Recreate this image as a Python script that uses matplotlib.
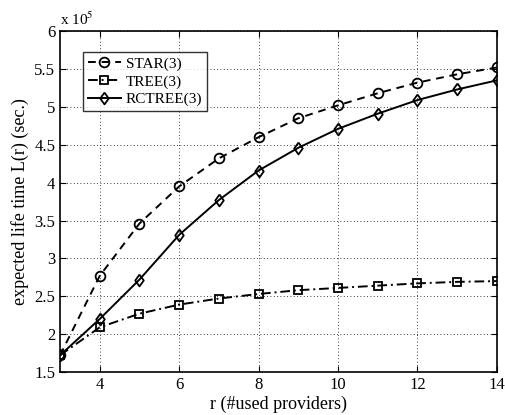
import matplotlib
matplotlib.use("Agg")
import matplotlib.pyplot as plt
import numpy as np

# data (values in units of 1e5 sec.)
r_vals = [3, 4, 5, 6, 7, 8, 9, 10, 11, 12, 13, 14]
star = [1.72, 2.77, 3.46, 3.95, 4.32, 4.60, 4.85, 5.02, 5.18, 5.32, 5.43, 5.52]
tree = [1.72, 2.09, 2.27, 2.39, 2.47, 2.53, 2.58, 2.61, 2.64, 2.67, 2.69, 2.70]
rctree = [1.72, 2.20, 2.72, 3.31, 3.77, 4.16, 4.46, 4.71, 4.91, 5.09, 5.23, 5.35]

plt.rcParams['font.family'] = ['Liberation Serif', 'DejaVu Serif']
plt.rcParams['mathtext.fontset'] = 'stix'

# diamond a bit wider than matplotlib's thin 'd'
diamond = [(0, 1), (0.72, 0), (0, -1), (-0.72, 0), (0, 1)]

fig = plt.figure(figsize=(5.06, 4.15), dpi=100)
ax = fig.add_axes([0.1186, 0.1036, 0.8634, 0.8214])

ax.plot(r_vals, star, color='k', linestyle=(0, (4, 3)), linewidth=1.4,
        marker='o', markersize=7, markerfacecolor='none', markeredgewidth=1.3,
        label='STAR(3)')
ax.plot(r_vals, tree, color='k', linestyle=(0, (5, 2, 1, 2)), linewidth=1.4,
        marker='s', markersize=6, markerfacecolor='none', markeredgewidth=1.3,
        label='TREE(3)')
ax.plot(r_vals, rctree, color='k', linestyle='-', linewidth=1.4,
        marker=diamond, markersize=8.5, markerfacecolor='none', markeredgewidth=1.3,
        label='RCTREE(3)')

ax.set_xlim(3, 14)
ax.set_ylim(1.5, 6)
ax.set_xticks([4, 6, 8, 10, 12, 14])
ax.set_yticks([1.5, 2, 2.5, 3, 3.5, 4, 4.5, 5, 5.5, 6])
ax.set_yticklabels(['1.5', '2', '2.5', '3', '3.5', '4', '4.5', '5', '5.5', '6'])
ax.tick_params(direction='in', labelsize=12, top=True, right=True, length=4)
ax.grid(True, linestyle=(0, (1, 3)), color='k', linewidth=0.6)
for s in ax.spines.values():
    s.set_linewidth(1.2)

ax.set_xlabel('r (#used providers)', fontsize=13, labelpad=2)
ax.set_ylabel('expected life time L(r) (sec.)', fontsize=13, labelpad=4)
ax.text(0.0, 1.01, r'x 10$^5$', transform=ax.transAxes, fontsize=11,
        ha='left', va='bottom')

leg = ax.legend(loc='upper left', bbox_to_anchor=(0.035, 0.96), fontsize=11,
                frameon=True, fancybox=False, edgecolor='k', handlelength=2.2,
                borderpad=0.3, labelspacing=0.25, handletextpad=0.3)
leg.get_frame().set_linewidth(1.0)

fig.savefig('out.png', dpi=100)
